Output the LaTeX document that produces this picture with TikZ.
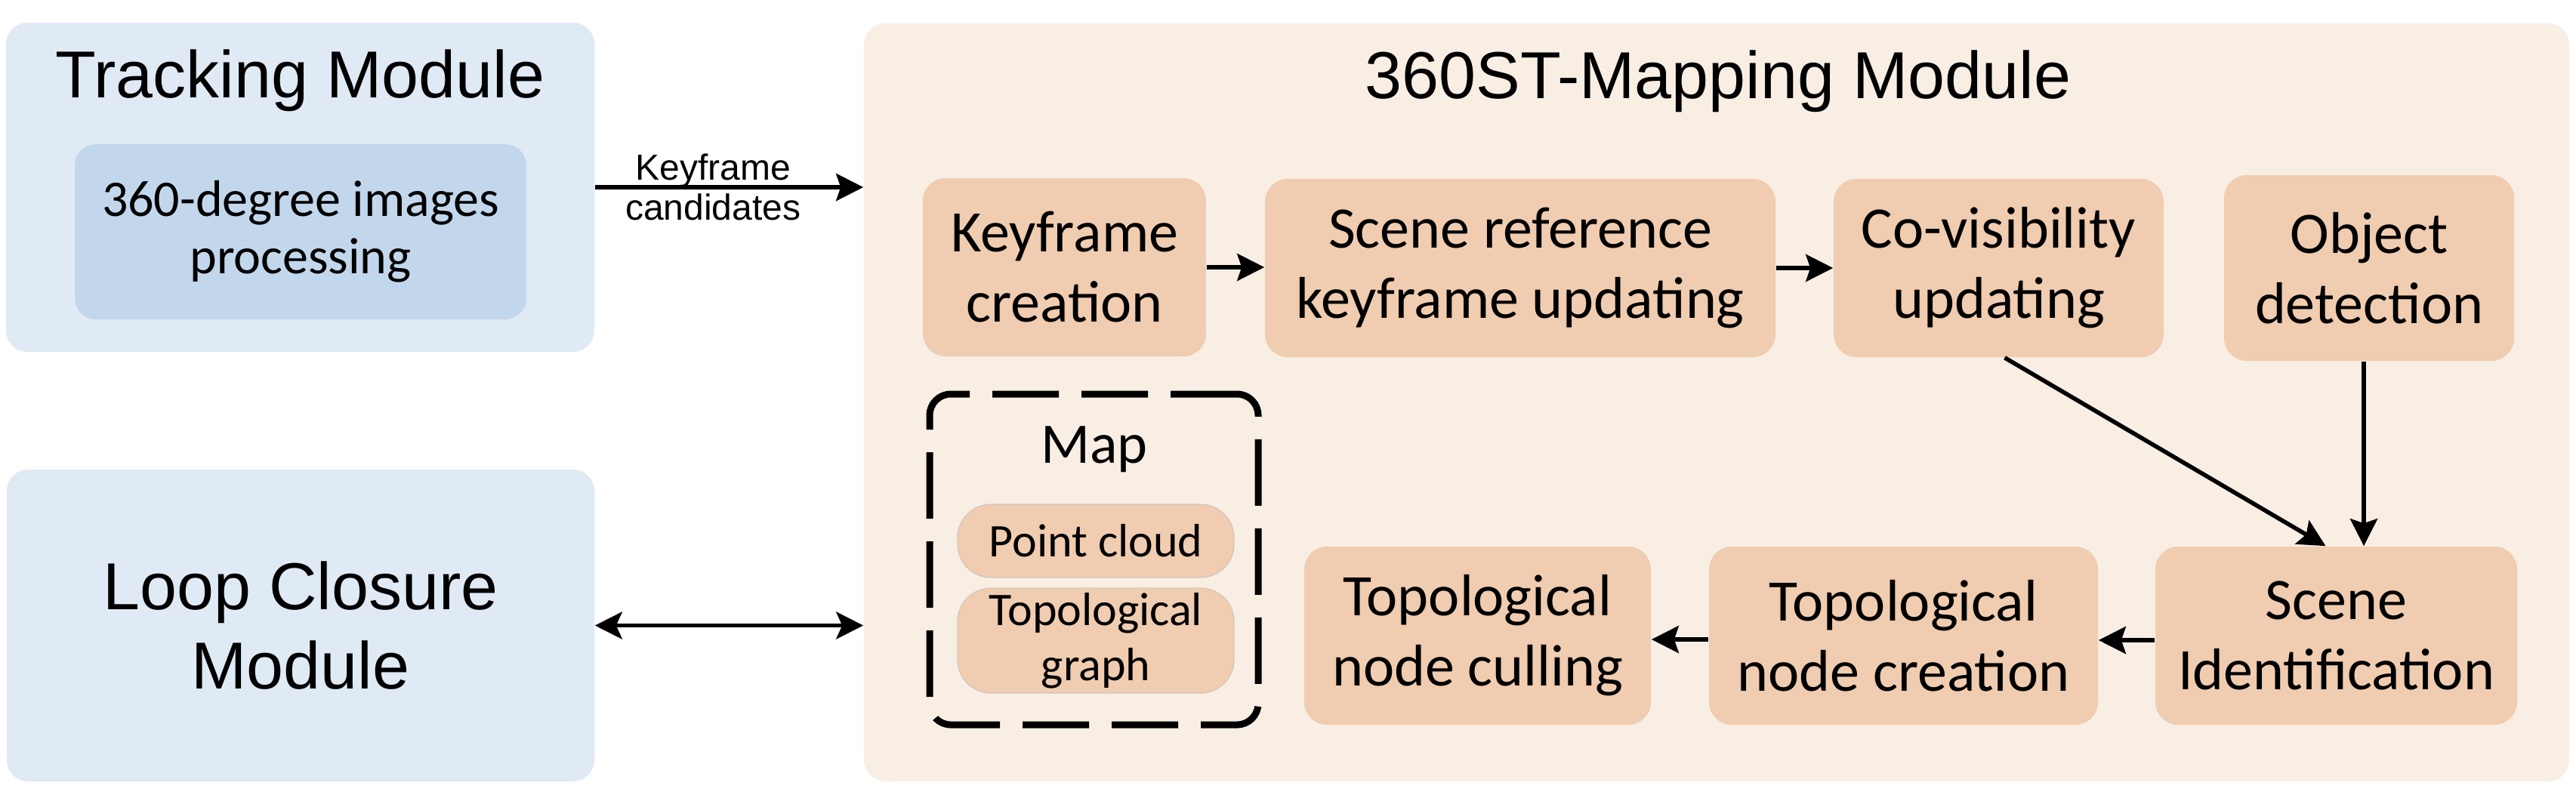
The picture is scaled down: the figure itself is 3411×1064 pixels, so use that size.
\documentclass[tikz,border=0pt]{standalone}
\usepackage{fontspec}
\setmainfont{Carlito}
\newfontfamily\arialf{Liberation Sans}
\usetikzlibrary{arrows.meta,calc}
\definecolor{bluebg}{HTML}{DFEAF5}
\definecolor{blueinner}{HTML}{C3D7EC}
\definecolor{mapbg}{HTML}{F8EEE4}
\definecolor{orangebox}{HTML}{F0CCB0}
\definecolor{pillborder}{HTML}{D3C6BC}
\tikzset{
  modbox/.style={fill=bluebg, draw=none, rounded corners=7pt, inner sep=0pt, align=center},
  stepbox/.style={fill=orangebox, draw=none, rounded corners=7.5pt, inner sep=0pt, align=center,
    minimum height=59pt, font=\fontsize{19.5}{23.25}\selectfont},
  pill/.style={fill=orangebox, draw=pillborder, line width=0.3pt, rounded corners=11pt, inner sep=0pt,
    align=center, minimum width=91.5pt, font=\fontsize{15.5}{18.25}\selectfont},
  titletext/.style={font=\arialf\fontsize{22}{26.25}\selectfont, align=center, inner sep=0pt},
  arr/.style={-{Stealth[length=9pt,width=9pt,inset=1.5pt]}, line width=1.4pt},
  dblarr/.style={{Stealth[length=9pt,width=9pt,inset=2pt]}-{Stealth[length=9pt,width=9pt,inset=2pt]}, line width=1.4pt},
}
\begin{document}
\begin{tikzpicture}[x=0.25pt,y=-0.25pt]
\fill[white] (0,0) rectangle (3411,1064);
\path[use as bounding box] (0,0) rectangle (3411,1064);

% left modules
\node[modbox, minimum width=194.75pt, minimum height=109pt] (track) at (397.5,248) {};
\node[titletext, anchor=base] (tracktitle) at (397.5,129) {Tracking Module};
\node[fill=blueinner, rounded corners=7pt, inner sep=0pt, align=center,
      minimum width=149.5pt, minimum height=58pt, font=\fontsize{17}{19}\selectfont]
      (inner) at (398,307) {360-degree images\\processing};
\node[modbox, minimum width=194.5pt, minimum height=103.25pt, titletext] (loop) at (398,828.5) {Loop Closure\\Module};

% mapping module
\node[fill=mapbg, rounded corners=7pt, inner sep=0pt, minimum width=564.5pt, minimum height=251pt] (mapm) at (2273,533) {};
\node[titletext, anchor=base] (maptitle) at (2275,130) {360ST-Mapping Module};

\node[stepbox, minimum width=93.75pt] (kf) at (1409.5,354) {Keyframe\\creation};
\node[stepbox, minimum width=169pt] (sref) at (2013,355) {Scene reference\\keyframe updating};
\node[stepbox, minimum width=109.25pt] (covis) at (2646.5,355) {Co-visibility\\updating};
\node[stepbox, minimum width=96pt, minimum height=61.5pt] (obj) at (3137,355) {Object\\detection};
\node[stepbox, minimum width=119.75pt] (sid) at (3093.5,842) {Scene\\Identification};
\node[stepbox, minimum width=128.75pt] (tcre) at (2520.5,842) {Topological\\node creation};
\node[stepbox, minimum width=114.75pt] (tcul) at (1956.5,842) {Topological\\node culling};

% map
\node[draw=black, line width=2.25pt, dash pattern=on 22pt off 7.5pt, rounded corners=7pt,
      minimum width=108.75pt, minimum height=109.5pt, inner sep=0pt] (mapbox) at (1448.5,741) {};
\node[anchor=base, inner sep=0pt, font=\fontsize{19}{22}\selectfont] (maplbl) at (1449,613) {Map};
\node[pill, minimum height=24.25pt] (pc) at (1451,716.5) {Point cloud};
\node[pill, minimum height=34.75pt] (tg) at (1451,848.5) {Topological\\graph};

% connectors
\draw[arr] (track.east) -- (track.east -| mapm.west)
  node[pos=0.44, font=\arialf\fontsize{12}{13.25}\selectfont, align=center, inner sep=0pt] {Keyframe\\candidates};
\draw[dblarr] (loop.east) -- (loop.east -| mapm.west);
\draw[arr] (kf.east) -- (kf.east -| sref.west);
\draw[arr] (sref.east) -- (sref.east -| covis.west);
\draw[arr] ($(covis.south)+(8,0)$) -- ($(sid.north)+(-14,0)$);
\coordinate (vx) at (3130,0);
\draw[arr] (obj.south -| vx) -- (sid.north -| vx);
\draw[arr] ($(sid.west)+(0,6)$) -- ($(tcre.east)+(0,6)$);
\draw[arr] ($(tcre.west)+(0,5)$) -- ($(tcul.east)+(0,5)$);
\end{tikzpicture}
\end{document}
